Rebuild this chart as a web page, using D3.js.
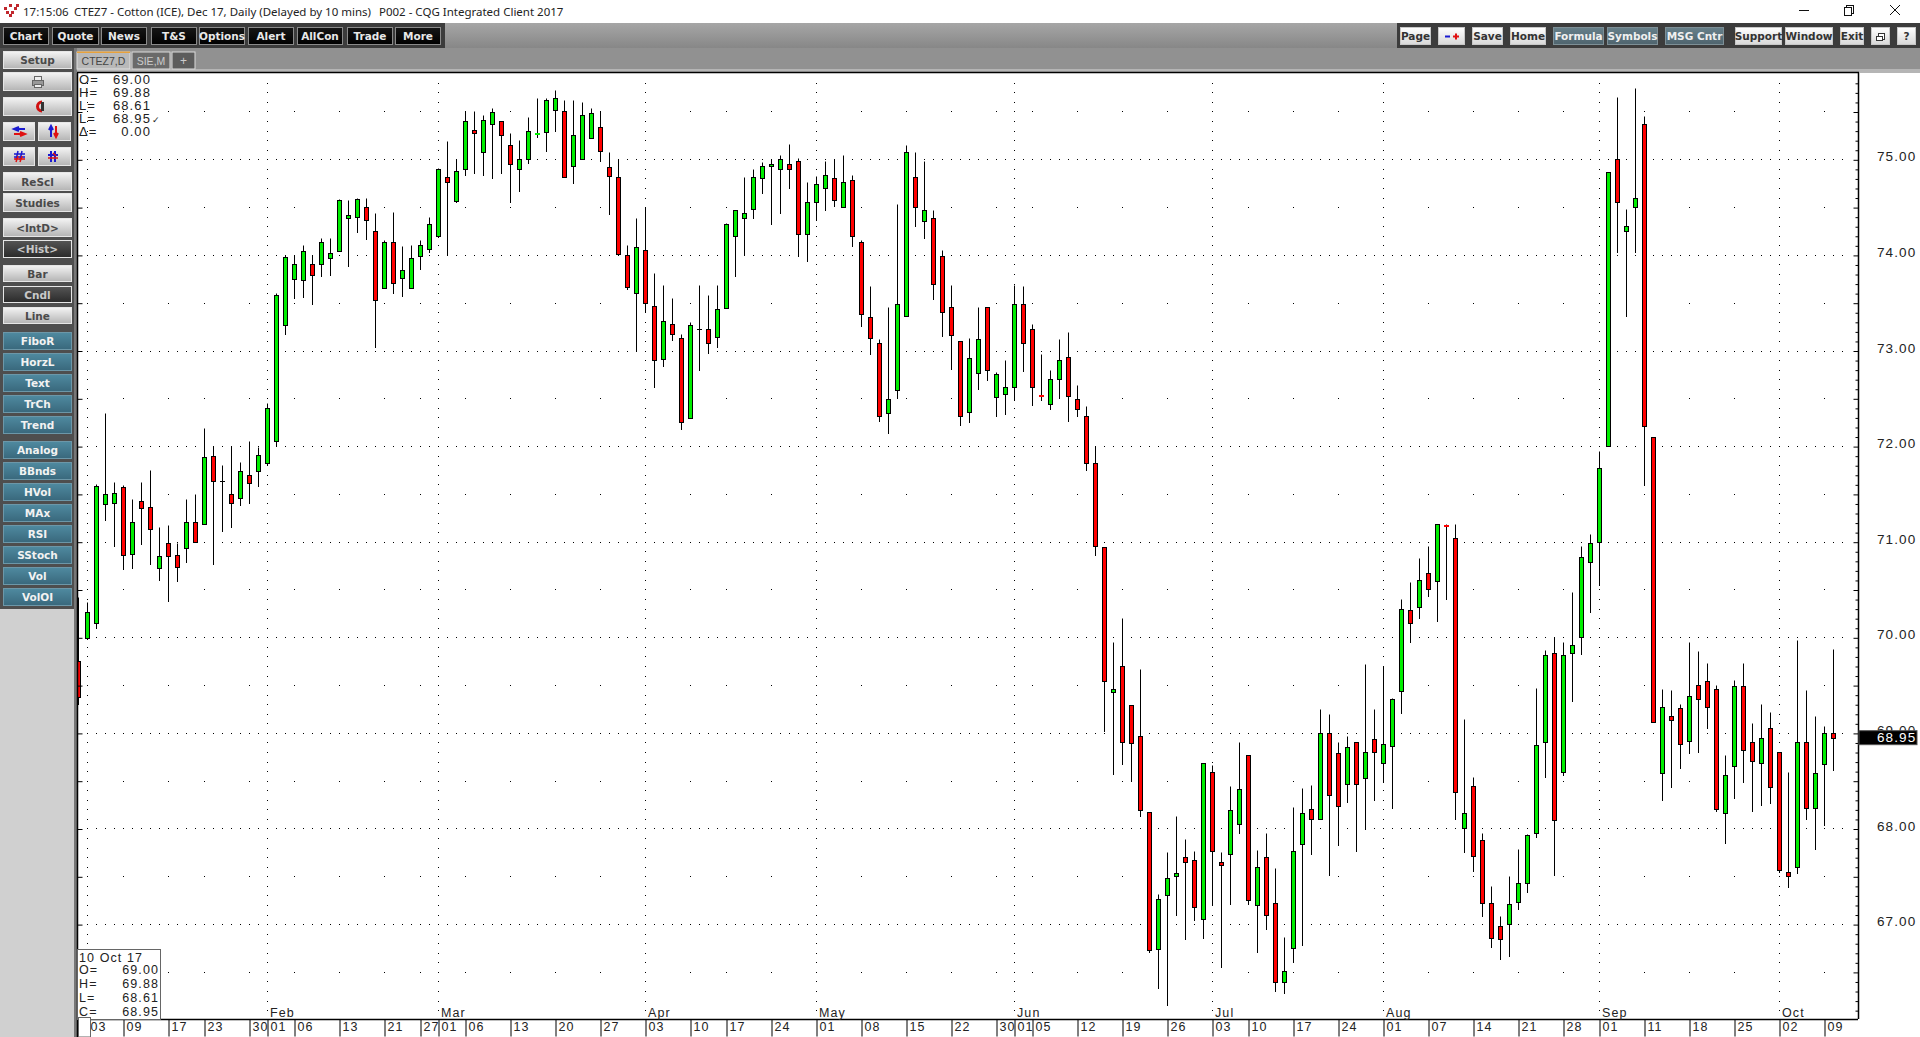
<!DOCTYPE html>
<html>
<head>
<meta charset="utf-8">
<title>CTEZ7</title>
<script src="https://cdn.jsdelivr.net/npm/d3@7"></script>
<style>
html,body{margin:0;padding:0;background:#fff;overflow:hidden}
svg{display:block}
text{font-family:"Liberation Sans",Arial,sans-serif}
.btn{font-family:"DejaVu Sans",sans-serif;font-weight:bold;font-size:10.5px;text-anchor:middle;dominant-baseline:central}
.num{font-size:13px;letter-spacing:1.1px;fill:#222}
</style>
</head>
<body>
<svg width="1920" height="1037"></svg>
<script>
// first bar is the clipped one from December
let opens = [69.75,69.99,70.15,71.39,71.40,71.57,70.87,71.43,71.36,70.73,70.99,70.86,70.93,71.21,
71.19,71.90,71.64,71.50,71.46,71.70,71.74,71.82,72.05,73.27,73.75,73.74,73.91,73.90,
73.97,74.04,74.39,74.40,74.50,74.25,73.65,74.14,73.76,73.65,73.99,74.06,74.20,74.81,
74.56,74.90,75.31,75.08,75.37,75.40,75.15,74.90,75.00,75.25,75.29,75.52,75.51,74.93,
75.00,75.22,75.34,74.92,74.81,74.00,73.60,74.05,73.47,72.91,73.28,73.13,72.29,73.23,
73.22,73.14,73.44,74.20,74.39,74.48,74.80,74.93,74.90,74.95,74.98,74.22,74.55,74.70,
74.80,74.50,74.78,74.14,73.35,73.08,72.35,72.59,73.36,74.81,74.35,74.39,73.99,73.45,
73.10,72.36,72.76,73.45,72.51,72.55,72.62,73.49,73.22,72.53,72.44,72.70,72.93,72.49,
72.31,71.82,70.94,69.43,69.70,69.29,68.97,68.17,66.74,67.30,67.50,67.70,67.67,67.05,
68.59,67.65,67.73,68.05,68.77,67.20,67.70,67.22,66.39,66.75,67.84,68.20,68.10,69.00,
68.79,68.47,68.90,68.53,68.94,68.69,68.86,69.44,70.29,70.32,70.67,70.59,71.17,71.04,
68.01,68.44,67.88,67.22,66.98,67.00,67.23,67.43,67.95,68.90,69.84,68.59,69.84,70.00,
70.79,71.00,72.00,75.00,74.25,74.50,75.37,72.09,68.58,69.18,69.26,68.92,69.50,69.54,
69.46,68.16,68.65,69.49,68.90,68.69,69.05,68.80,67.55,67.60,68.90,68.21,68.67,69.00];
let highs = [70.42,70.37,71.60,72.35,71.62,71.59,71.45,71.62,71.75,71.15,71.17,70.99,71.45,71.50,
72.19,72.00,71.80,72.00,71.83,72.05,71.99,72.45,73.60,74.00,74.00,74.10,74.00,74.18,
74.18,74.58,74.57,74.59,74.59,74.44,74.16,74.45,74.09,74.10,74.16,74.40,74.91,75.19,
75.00,75.50,75.50,75.46,75.54,75.40,75.28,75.20,75.44,75.64,75.64,75.72,75.62,75.62,
75.60,75.54,75.50,75.08,75.00,74.10,74.39,74.50,73.81,73.68,73.55,73.17,73.30,73.69,
73.58,73.68,74.33,74.47,74.81,74.90,74.97,75.00,75.05,75.16,75.01,74.76,74.83,74.98,
75.00,75.04,74.84,74.16,73.67,73.12,73.45,74.53,75.15,75.08,74.98,74.47,74.05,73.69,
73.10,73.13,73.46,73.45,72.77,72.90,73.69,73.67,73.28,72.96,72.80,73.12,73.19,72.64,
72.42,72.00,70.94,69.95,70.20,69.29,69.67,68.17,67.32,67.75,68.13,67.89,67.76,68.68,
68.66,67.75,68.44,68.91,68.77,67.78,67.95,67.59,66.86,68.22,68.42,68.46,69.25,69.20,
68.90,68.97,68.90,69.72,69.25,69.70,69.37,70.40,70.58,70.83,70.95,71.18,71.19,71.18,
69.15,68.54,67.95,67.40,67.08,67.50,67.79,67.94,69.47,69.87,70.00,69.95,70.47,70.95,
71.08,71.95,74.87,75.65,74.48,75.75,75.45,72.09,69.46,69.45,69.30,69.95,69.86,69.73,
69.50,68.77,69.55,69.73,69.10,69.30,69.22,68.80,68.59,69.97,69.45,69.18,69.07,69.88];
let lows = [69.30,69.98,70.10,71.23,70.96,70.71,70.73,70.98,70.77,70.60,70.38,70.59,70.79,71.00,
71.19,70.77,71.11,71.15,71.38,71.40,71.58,71.80,72.00,73.17,73.55,73.56,73.49,73.78,
73.79,74.04,73.88,74.24,74.17,73.04,73.65,73.60,73.57,73.65,73.85,74.03,74.19,74.00,
74.55,74.84,74.86,74.84,74.80,74.86,74.55,74.67,74.96,75.23,75.09,75.30,74.81,74.75,
75.00,75.22,74.98,74.43,74.00,73.64,73.00,73.40,72.62,72.84,73.11,72.18,72.29,72.80,
72.97,73.04,73.44,73.78,74.00,74.39,74.65,74.32,74.44,74.70,73.99,73.94,74.36,74.47,
74.51,74.50,74.09,73.26,72.96,72.26,72.14,72.50,73.36,74.30,74.18,73.54,73.15,72.81,
72.22,72.25,72.60,72.69,72.32,72.34,72.48,72.79,72.43,72.48,72.39,72.50,72.26,72.32,
71.75,70.86,69.02,68.57,68.67,68.50,68.13,66.71,66.33,66.15,67.09,66.84,67.04,66.85,
67.20,66.55,67.21,67.95,67.21,66.71,66.95,66.30,66.28,66.60,66.78,67.73,68.10,67.51,
67.83,68.28,67.76,67.99,68.30,68.49,68.21,69.21,69.95,70.20,70.43,70.17,70.40,68.10,
67.75,67.56,67.08,66.76,66.63,66.67,67.16,67.34,67.91,68.54,67.51,68.56,69.33,69.83,
70.26,70.55,72.00,74.03,73.36,74.03,71.59,69.11,68.30,68.43,68.63,68.79,68.80,69.05,
68.18,67.85,68.32,68.49,68.18,68.25,68.27,67.54,67.39,67.53,68.10,67.79,68.04,68.61];
let closes = [69.38,70.26,71.58,71.50,71.51,70.86,71.21,71.35,71.13,70.85,70.85,70.74,71.21,71.00,
71.89,71.64,71.64,71.40,71.74,71.61,71.91,72.40,73.58,73.98,73.90,74.04,73.79,74.13,
74.02,74.57,74.42,74.58,74.37,73.53,74.13,73.71,73.84,73.97,74.10,74.32,74.90,74.76,
74.88,75.40,75.28,75.41,75.49,75.25,74.95,75.00,75.30,75.26,75.62,75.64,74.82,75.25,
75.46,75.48,75.09,74.83,74.01,73.66,74.08,73.50,72.90,73.31,73.17,72.25,73.27,73.23,
73.08,73.43,74.32,74.47,74.44,74.81,74.93,74.95,75.00,74.90,74.22,74.55,74.74,74.84,
74.57,74.76,74.20,73.38,73.13,72.31,72.49,73.49,75.08,74.50,74.47,73.70,73.40,73.16,
72.31,72.92,73.12,72.80,72.75,72.62,73.49,73.08,72.62,72.52,72.70,72.90,72.52,72.39,
71.82,70.95,69.54,69.46,68.90,68.89,68.19,66.73,67.26,67.48,67.53,67.65,67.18,68.68,
67.76,67.62,68.19,68.41,67.25,67.60,67.10,66.39,66.51,67.76,68.16,68.10,69.00,68.35,
68.24,68.85,68.47,68.80,68.80,68.88,69.35,70.30,70.15,70.60,70.51,71.18,71.16,68.38,
68.16,67.71,67.22,66.85,66.84,67.21,67.43,67.93,68.87,69.81,68.09,69.81,69.92,70.84,
70.99,71.77,74.87,74.55,74.30,74.60,72.21,69.11,69.27,69.14,68.88,69.39,69.35,69.27,
68.20,68.56,69.49,68.82,68.71,68.95,68.43,67.57,67.50,68.90,68.21,68.58,69.00,68.95];

let dayBars = [1,5,10,14,19,21,24,29,34,38,40,43,48,53,58,63,68,72,77,82,87,92,97,102,104,106,111,116,121,126,130,135,140,145,150,155,160,165,169,174,179,184,189,194];
let dayLabels = ['03','09','17','23','30','01','06','13','21','27','01','06','13','20','27','03','10','17','24','01','08','15','22','30','01','05','12','19','26','03','10','17','24','01','07','14','21','28','01','11','18','25','02','09'];
let monthBars = [21,40,63,82,104,126,145,169,189];
let monthLabels = ['Feb','Mar','Apr','May','Jun','Jul','Aug','Sep','Oct'];
let gridStartBar = 1;
let priceLabels = [67,68,69,70,71,72,73,74,75];
let lastPrice = 68.95;
let infoRows = [['O=','69.00'],['H=','69.88'],['L=','68.61'],['L=','68.95'],['\u0394=','0.00']];
let boxRows = [['O=','69.00'],['H=','69.88'],['L=','68.61'],['C=','68.95']];

let topButtons = [['Chart',3,46],['Quote',52,47],['News',101,46],['T&S',151,46],['Options',199,46],['Alert',248,46],['AllCon',297,46],['Trade',347,46],['More',395,46]];
let rightButtons = [['Page',1400,31,'l'],['',1438,27,'l'],['Save',1472,31,'l'],['Home',1510,36,'l'],['Formula',1553,51,'t'],['Symbols',1607,51,'t'],['MSG Cntr',1665,59,'t'],['Support',1735,47,'l'],['Window',1785,48,'l'],['Exit',1840,24,'l'],['',1871,19,'l'],['?',1897,19,'l']];
let sideButtons = [['Setup',51,18,'g'],['',72,19,'g'],['',97,19,'m'],['ReScl',172,19,'g'],['Studies',193,19,'g'],['<IntD>',218,19,'g'],['<Hist>',240,18,'d'],['Bar',265,17,'g'],['Cndl',286,17,'d'],['Line',307,17,'g'],['FiboR',332,18,'b'],['HorzL',353,18,'b'],['Text',374,18,'b'],['TrCh',395,18,'b'],['Trend',416,18,'b'],['Analog',441,18,'b'],['BBnds',462,18,'b'],['HVol',483,18,'b'],['MAx',504,18,'b'],['RSI',525,18,'b'],['SStoch',546,18,'b'],['Vol',567,18,'b'],['VolOI',588,18,'b']];

let plotLeft = 77, plotRight = 1858, plotTop = 73, plotBottom = 1019;
let svg = d3.select('svg');
let x = d3.scaleLinear().domain([0,195]).range([78.5,1833.5]);
let y = d3.scaleLinear().domain([70,75]).range([637.3,159.3]);
let py = v => Math.round(y(v))+0.5;

// window chrome
let defs = svg.append('defs');
function grad(id,a,b){
  let g = defs.append('linearGradient').attr('id',id).attr('x1',0).attr('y1',0).attr('x2',0).attr('y2',1);
  g.append('stop').attr('offset',0).attr('stop-color',a);
  g.append('stop').attr('offset',1).attr('stop-color',b);
}
grad('gLight','#f4f4f4','#b4b4b4');
grad('gDark','#555555','#2a2a2a');
grad('gBlue','#4f8aa0','#39687c');
grad('gBlack','#161616','#000000');
grad('gWhite','#ffffff','#d8d8d8');
grad('gTeal','#67808a','#4f646e');
grad('gBand','#a6a6a6','#878787');
defs.append('clipPath').attr('id','plotClip').append('rect').attr('x',plotLeft).attr('y',plotTop).attr('width',plotRight-plotLeft).attr('height',plotBottom-plotTop);

let chrome = svg.append('g');
chrome.append('rect').attr('width',1920).attr('height',23).attr('fill','#fff');
chrome.append('rect').attr('y',23).attr('width',1920).attr('height',25).attr('fill','url(#gBand)');
chrome.append('rect').attr('y',23).attr('width',445).attr('height',25).attr('fill','#3c3c3c');
chrome.append('rect').attr('x',1397).attr('y',23).attr('width',523).attr('height',25).attr('fill','#3c3c3c');
chrome.append('rect').attr('y',48).attr('width',1920).attr('height',25).attr('fill','#919191');
chrome.append('rect').attr('x',77).attr('y',69).attr('width',1843).attr('height',4).attr('fill','#b5b5b5');
chrome.append('rect').attr('y',48).attr('width',77).attr('height',989).attr('fill','#d0d0d0');
chrome.append('rect').attr('y',48).attr('width',77).attr('height',561).attr('fill','#4e4e4e');
chrome.append('rect').attr('x',74).attr('y',48).attr('width',3).attr('height',989).attr('fill','#777');

// app icon
let iconCells = [[3,7],[8,4],[13,7],[5,11],[10,11],[15,4],[8,14]];
chrome.selectAll('.ic').data(iconCells).enter().append('rect').attr('x',d=>d[0]+1).attr('y',d=>d[1]).attr('width',3).attr('height',3).attr('fill','#c0272d');

let titleFont = '"Noto Sans",sans-serif';
[['17:15:06',23],['CTEZ7 - Cotton (ICE), Dec 17, Daily (Delayed by 10 mins)',74],['P002 - CQG Integrated Client 2017',379]].forEach(t=>{
  chrome.append('text').attr('x',t[1]).attr('y',16).text(t[0]).style('font-family',titleFont).style('font-size','11.5px').attr('fill','#222');
});
chrome.append('line').attr('x1',1799).attr('x2',1809).attr('y1',10.5).attr('y2',10.5).attr('stroke','#111');
chrome.append('rect').attr('x',1846.5).attr('y',5.5).attr('width',7).attr('height',8).attr('fill','none').attr('stroke','#111');
chrome.append('rect').attr('x',1844.5).attr('y',7.5).attr('width',7).attr('height',8).attr('fill','#fff').attr('stroke','#111');
chrome.append('path').attr('d','M1890 5L1900 15M1900 5L1890 15').attr('stroke','#111').attr('fill','none');

function button(x0,y0,w,h,label,fill,color,edge){
  let g = chrome.append('g');
  g.append('rect').attr('x',x0+0.5).attr('y',y0+0.5).attr('width',w-1).attr('height',h-1).attr('fill',fill).attr('stroke',edge);
  if(label) g.append('text').attr('class','btn').attr('x',x0+w/2).attr('y',y0+h/2).attr('fill',color).text(label);
  return g;
}
topButtons.forEach(b=>button(b[1],27,b[2],18,b[0],'url(#gBlack)','#e8e8e8','#8a8a8a'));
rightButtons.forEach(b=>{
  if(b[3]=='t') button(b[1],27,b[2],18,b[0],'url(#gTeal)','#f0f0f0','#7d8f96');
  else button(b[1],27,b[2],18,b[0],'url(#gWhite)','#333','#c8c8c8');
});
chrome.append('path').attr('d','M1445 36.5h5').attr('stroke','#1a1ad0').attr('stroke-width',2);
chrome.append('path').attr('d','M1453 36.5h6M1456 33.5v6').attr('stroke','#e01010').attr('stroke-width',2);
chrome.append('rect').attr('x',1878.5).attr('y',33.5).attr('width',6).attr('height',6).attr('fill','#fff').attr('stroke','#333');
chrome.append('rect').attr('x',1876.5).attr('y',36.5).attr('width',6).attr('height',4).attr('fill','#fff').attr('stroke','#333');

let sideFill = {g:'url(#gLight)',m:'url(#gLight)',d:'url(#gDark)',b:'url(#gBlue)'};
let sideText = {g:'#4a4a4a',m:'#4a4a4a',d:'#c8c8c8',b:'#f2f2f2'};
sideButtons.forEach(b=>button(3,b[1],69,b[2],b[0],sideFill[b[3]],sideText[b[3]],b[3]=='b'?'#6c97a8':'#e6e6e6'));
// little icon buttons
[[3,122,32],[38,122,33],[3,147,32],[38,147,33]].forEach(b=>button(b[0],b[1],b[2],19,'','url(#gLight)','#000','#e6e6e6'));
// printer
chrome.append('rect').attr('x',34.5).attr('y',76.5).attr('width',7).attr('height',4).attr('fill','#eee').attr('stroke','#666');
chrome.append('rect').attr('x',32.5).attr('y',80.5).attr('width',11).attr('height',5).attr('fill','#999').attr('stroke','#666');
chrome.append('rect').attr('x',34.5).attr('y',84.5).attr('width',7).attr('height',3).attr('fill','#eee').attr('stroke','#666');
chrome.append('path').attr('d','M42 102a4.5 4.5 0 1 0 0 9').attr('stroke','#d01010').attr('stroke-width',3).attr('fill','none');
chrome.append('rect').attr('x',41).attr('y',102).attr('width',3).attr('height',9).attr('fill','#333');
chrome.append('path').attr('d','M14 129h11M19 127l-5 2 5 2').attr('stroke','#1a1ad0').attr('stroke-width',2).attr('fill','none');
chrome.append('path').attr('d','M14 134h11M20 132l5 2-5 2').attr('stroke','#e01010').attr('stroke-width',2).attr('fill','none');
chrome.append('path').attr('d','M51 126v11M49 130l2-4 2 4').attr('stroke','#1a1ad0').attr('stroke-width',2).attr('fill','none');
chrome.append('path').attr('d','M56 126v11M54 133l2 4 2-4').attr('stroke','#e01010').attr('stroke-width',2).attr('fill','none');
chrome.append('path').attr('d','M14 154h11M14 157h11M18 151l-2 9M22 151l-2 9').attr('stroke','#1a1ad0').attr('stroke-width',1.5).attr('fill','none');
chrome.append('path').attr('d','M14 159h11M18 156l-2 6M22 156l-2 6').attr('stroke','#e01010').attr('stroke-width',1.5).attr('fill','none');
chrome.append('path').attr('d','M51 151v11M55 151v11M48 155h10').attr('stroke','#1a1ad0').attr('stroke-width',2).attr('fill','none');
chrome.append('path').attr('d','M48 158h10M53 153l3 3').attr('stroke','#e01010').attr('stroke-width',1.5).attr('fill','none');

// tabs
chrome.append('rect').attr('x',77).attr('y',52).attr('width',53).attr('height',17).attr('fill','#b9b9b9').attr('stroke','#e0e0e0');
chrome.append('rect').attr('x',77).attr('y',51.5).attr('width',53).attr('height',1.5).attr('fill','#e8a23c');
chrome.append('text').attr('x',103.5).attr('y',60.5).attr('text-anchor','middle').attr('dominant-baseline','central').attr('fill','#444').style('font-size','10.5px').text('CTEZ7,D');
chrome.append('rect').attr('x',132).attr('y',52).attr('width',38).attr('height',17).attr('fill','#6a6a6a').attr('stroke','#dcdcdc');
chrome.append('text').attr('x',151).attr('y',60.5).attr('text-anchor','middle').attr('dominant-baseline','central').attr('fill','#ccc').style('font-size','10.5px').text('SIE,M');
chrome.append('rect').attr('x',172).attr('y',52).attr('width',23).attr('height',17).attr('fill','#5c5c5c').attr('stroke','#dcdcdc');
chrome.append('text').attr('x',183.5).attr('y',60.5).attr('text-anchor','middle').attr('dominant-baseline','central').attr('fill','#ccc').style('font-size','12px').text('+');

// plot
svg.append('rect').attr('x',plotLeft).attr('y',plotTop).attr('width',1920-plotLeft).attr('height',1037-plotTop).attr('fill','#fff');
let grid = svg.append('g').attr('fill','#000');
let allBars = d3.range(gridStartBar,197);
priceLabels.forEach(p=>{
  grid.selectAll(null).data(allBars).enter().append('rect')
    .attr('x',d=>Math.floor(x(d))).attr('y',Math.floor(py(p))).attr('width',1).attr('height',1);
});
let halfRows = d3.range(66.5,76,1);
halfRows.forEach(p=>{
  grid.selectAll(null).data(dayBars).enter().append('rect')
    .attr('x',d=>Math.floor(x(d))).attr('y',Math.floor(py(p))).attr('width',1).attr('height',1);
});
let tenths = d3.range(661,759).map(d=>d/10);
[gridStartBar].concat(monthBars).forEach(b=>{
  grid.selectAll(null).data(tenths).enter().append('rect')
    .attr('x',Math.floor(x(b))).attr('y',d=>Math.floor(py(d))).attr('width',1).attr('height',1);
});

// candles
let bars = opens.map((o,i)=>({i:i,o:o,h:highs[i],l:lows[i],c:closes[i]}));
let candle = svg.append('g').attr('clip-path','url(#plotClip)').selectAll('g').data(bars).enter().append('g');
candle.append('line')
  .attr('x1',d=>x(d.i)).attr('x2',d=>x(d.i))
  .attr('y1',d=>py(d.h)).attr('y2',d=>py(d.l)+0.5)
  .attr('stroke','#000').attr('stroke-width',1);
let bodyColor = d=>d.c>d.o?'#00ee00':'#ff0000';
candle.filter(d=>Math.abs(d.c-d.o)>0.015).append('rect')
  .attr('x',d=>x(d.i)-2).attr('width',4)
  .attr('y',d=>py(Math.max(d.o,d.c)))
  .attr('height',d=>py(Math.min(d.o,d.c))-py(Math.max(d.o,d.c)))
  .attr('fill',bodyColor).attr('stroke','#000').attr('stroke-width',1);
candle.filter(d=>Math.abs(d.c-d.o)<=0.015).append('rect')
  .attr('x',d=>x(d.i)-2.5).attr('width',5)
  .attr('y',d=>Math.floor(py(d.c))-(d.c==d.o?0:1)).attr('height',d=>d.c==d.o?1:2)
  .attr('fill',d=>d.c==d.o?'#000':bodyColor(d));

// axes
let bottomAxis = d3.axisBottom(x).tickValues(dayBars).tickFormat((d,i)=>dayLabels[i]).tickSize(17).tickSizeOuter(0);
let bottomG = svg.append('g').attr('transform',`translate(0,${plotBottom+0.5})`).call(bottomAxis);
bottomG.select('.domain').attr('stroke','#000').attr('stroke-width',1.5).attr('d',`M${plotLeft},0H${plotRight}`);
bottomG.selectAll('line').attr('stroke','#000');
bottomG.selectAll('text').attr('class','num').attr('text-anchor','start').attr('x',2.5).attr('y',3).attr('dy','0.71em').style('font-size','12.5px').attr('fill','#222');

let monthAxis = d3.axisTop(x).tickValues(monthBars).tickFormat((d,i)=>monthLabels[i]).tickSize(0).tickSizeOuter(0);
let monthG = svg.append('g').attr('transform',`translate(0,${plotBottom-2})`).call(monthAxis);
monthG.select('.domain').remove();
monthG.selectAll('text').attr('class','num').attr('text-anchor','start').attr('x',2).attr('y',0).attr('dy','0').style('font-size','12.5px').attr('fill','#222');

let rightAxis = d3.axisRight(y).tickValues(priceLabels).tickFormat(d3.format('.2f')).tickSize(0).tickSizeOuter(0);
let rightG = svg.append('g').attr('transform',`translate(${plotRight},0)`).call(rightAxis);
rightG.select('.domain').remove();
rightG.selectAll('text').attr('class','num').attr('x',19).attr('dy','0.12em').style('font-size','13.5px').attr('fill','#222');

let minorTicks = tenths.filter(d=>Math.round(d*10)%5!=0);
let majorTicks = tenths.filter(d=>Math.round(d*10)%5==0);
svg.append('g').attr('transform',`translate(${plotRight+0.5},0.5)`).call(d3.axisLeft(y).tickValues(minorTicks).tickFormat('').tickSize(3).tickSizeOuter(0)).call(g=>g.select('.domain').remove());
svg.append('g').attr('transform',`translate(${plotRight+0.5},0.5)`).call(d3.axisLeft(y).tickValues(majorTicks).tickFormat('').tickSize(5).tickSizeOuter(0)).call(g=>g.select('.domain').remove());
svg.append('g').attr('transform',`translate(${plotLeft+0.5},0.5)`).call(d3.axisRight(y).tickValues(majorTicks).tickFormat('').tickSize(5).tickSizeOuter(0)).call(g=>g.select('.domain').remove());

let frame = svg.append('g').attr('stroke','#000').attr('fill','none');
frame.append('line').attr('x1',plotLeft).attr('x2',plotRight+1).attr('y1',plotTop-0.5).attr('y2',plotTop-0.5).attr('stroke-width',1.5);
frame.append('line').attr('x1',plotLeft+0.5).attr('x2',plotLeft+0.5).attr('y1',plotTop).attr('y2',1037).attr('stroke-width',1.5);
frame.append('line').attr('x1',plotRight+0.5).attr('x2',plotRight+0.5).attr('y1',plotTop).attr('y2',plotBottom).attr('stroke-width',1.5);

// last price tag
svg.append('rect').attr('x',1859).attr('y',y(lastPrice)-7).attr('width',58).attr('height',14).attr('fill','#000').attr('stroke','#555');
svg.append('text').attr('class','num').attr('x',1877).attr('y',y(lastPrice)+4.5).style('fill','#fff').style('font-size','13.5px').text(d3.format('.2f')(lastPrice));

// readout, top left
let info = svg.append('g');
infoRows.forEach((r,i)=>{
  info.append('text').attr('class','num').attr('x',79).attr('y',84+13*i).text(r[0]);
  info.append('text').attr('class','num').attr('x',151).attr('y',84+13*i).attr('text-anchor','end').text(r[1]);
});
info.append('text').attr('x',152).attr('y',123).style('font-size','9px').attr('fill','#222').text('\u2713');

// date box, bottom left
let box = svg.append('g');
box.append('rect').attr('x',77.5).attr('y',949.5).attr('width',83).attr('height',70).attr('fill','#fff').attr('stroke','#666');
box.append('text').attr('class','num').attr('x',79).attr('y',962).style('font-size','12.5px').text('10 Oct 17');
boxRows.forEach((r,i)=>{
  box.append('text').attr('class','num').attr('x',79).attr('y',974+14*i).style('font-size','12.5px').text(r[0]);
  box.append('text').attr('class','num').attr('x',159).attr('y',974+14*i).attr('text-anchor','end').style('font-size','12.5px').text(r[1]);
});
box.append('rect').attr('x',78.5).attr('y',1017.5).attr('width',12).attr('height',19.5).attr('fill','#fff').attr('stroke','#666');
</script>
</body>
</html>
